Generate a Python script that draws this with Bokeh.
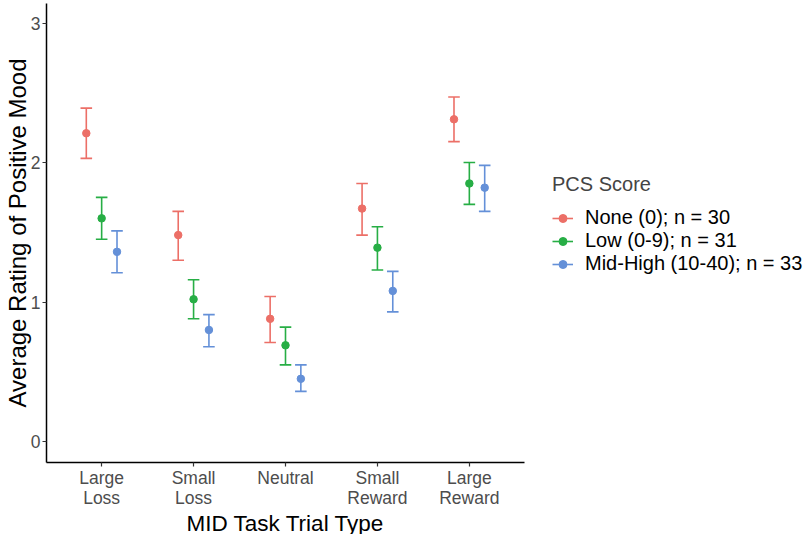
from bokeh.plotting import figure
from bokeh.models import (ColumnDataSource, FactorRange, Range1d, Legend, LegendItem,
                          FixedTicker)
from bokeh.transform import dodge
from bokeh.embed import file_html
from bokeh.resources import INLINE

# ---- data ----
categories = ["Large\nLoss", "Small\nLoss", "Neutral", "Small\nReward", "Large\nReward"]

groups = ["None (0); n = 30", "Low (0-9); n = 31", "Mid-High (10-40); n = 33"]
colors = ["#EC6F67", "#27AE45", "#6490D8"]

none_mean = [2.21, 1.48, 0.88, 1.67, 2.31]
none_lo = [2.03, 1.30, 0.71, 1.48, 2.15]
none_hi = [2.39, 1.65, 1.04, 1.85, 2.47]

low_mean = [1.60, 1.02, 0.69, 1.39, 1.85]
low_lo = [1.45, 0.88, 0.55, 1.23, 1.70]
low_hi = [1.75, 1.16, 0.82, 1.54, 2.00]

mid_mean = [1.36, 0.80, 0.45, 1.08, 1.82]
mid_lo = [1.21, 0.68, 0.36, 0.93, 1.65]
mid_hi = [1.51, 0.91, 0.55, 1.22, 1.98]

series = [(none_mean, none_lo, none_hi), (low_mean, low_lo, low_hi), (mid_mean, mid_lo, mid_hi)]
offsets = [-0.167, 0.0, 0.167]
cap_half = 0.063

FONT = "Liberation Sans"

x_range = FactorRange(*categories, range_padding=0.1, range_padding_units="absolute")
p = figure(x_range=x_range, y_range=Range1d(-0.15, 3.14),
           width=794, height=518, output_backend="svg", toolbar_location=None,
           min_border_top=3, min_border_bottom=0, min_border_left=0, min_border_right=0)
p.frame_width = 478
p.frame_height = 459

p.background_fill_color = "white"
p.border_fill_color = "white"
p.outline_line_color = None
p.xgrid.visible = False
p.ygrid.visible = False

items = []
for (m, lo, hi), off, col, name in zip(series, offsets, colors, groups):
    src = ColumnDataSource(dict(cat=categories, mean=m, lo=lo, hi=hi))
    r_seg = p.segment(x0=dodge("cat", off, range=x_range), y0="lo",
                      x1=dodge("cat", off, range=x_range), y1="hi",
                      source=src, line_color=col, line_width=1.6)
    p.segment(x0=dodge("cat", off - cap_half, range=x_range), y0="lo",
              x1=dodge("cat", off + cap_half, range=x_range), y1="lo",
              source=src, line_color=col, line_width=1.6)
    p.segment(x0=dodge("cat", off - cap_half, range=x_range), y0="hi",
              x1=dodge("cat", off + cap_half, range=x_range), y1="hi",
              source=src, line_color=col, line_width=1.6)
    r_pt = p.scatter(x=dodge("cat", off, range=x_range), y="mean", source=src,
                     size=7.5, fill_color=col, line_color=col)
    items.append(LegendItem(label=name, renderers=[r_seg, r_pt]))

# axes
for ax in (p.xaxis[0], p.yaxis[0]):
    ax.axis_line_color = "black"
    ax.axis_line_width = 1.5
    ax.major_tick_line_color = "#333333"
    ax.major_tick_line_width = 1.2
    ax.major_tick_in = 0
    ax.major_tick_out = 4
    ax.minor_tick_line_color = None
    ax.major_label_text_font = FONT
    ax.major_label_text_font_size = "17.5px"
    ax.major_label_text_color = "#4D4D4D"
    ax.axis_label_text_font = FONT
    ax.axis_label_text_font_style = "normal"
    ax.axis_label_text_color = "black"
    ax.axis_label_text_line_height = 1.0

p.xaxis.axis_label = "MID Task Trial Type"
p.xaxis.axis_label_text_font_size = "22.5px"
p.xaxis.major_label_text_line_height = 1.0
p.xaxis.major_label_standoff = 1
p.xaxis.axis_label_standoff = 0

p.yaxis.ticker = FixedTicker(ticks=[0, 1, 2, 3])
p.yaxis.axis_label = "Average Rating of Positive Mood"
p.yaxis.axis_label_text_font_size = "24px"
p.yaxis.major_label_standoff = 2
p.yaxis.axis_label_standoff = -3

legend = Legend(items=items, title="PCS Score")
legend.title_text_font = FONT
legend.title_text_font_size = "20px"
legend.title_text_font_style = "normal"
legend.title_standoff = 10
legend.label_text_font = FONT
legend.label_text_font_size = "20px"
legend.label_text_color = "black"
legend.glyph_width = 21
legend.glyph_height = 20
legend.label_height = 20
legend.label_standoff = 12
legend.spacing = 0
legend.padding = 0
legend.margin = 0
legend.border_line_color = None
legend.background_fill_alpha = 0
legend.location = (28, 187)
p.add_layout(legend, "right")

open("out.html", "w").write(file_html(p, INLINE))
